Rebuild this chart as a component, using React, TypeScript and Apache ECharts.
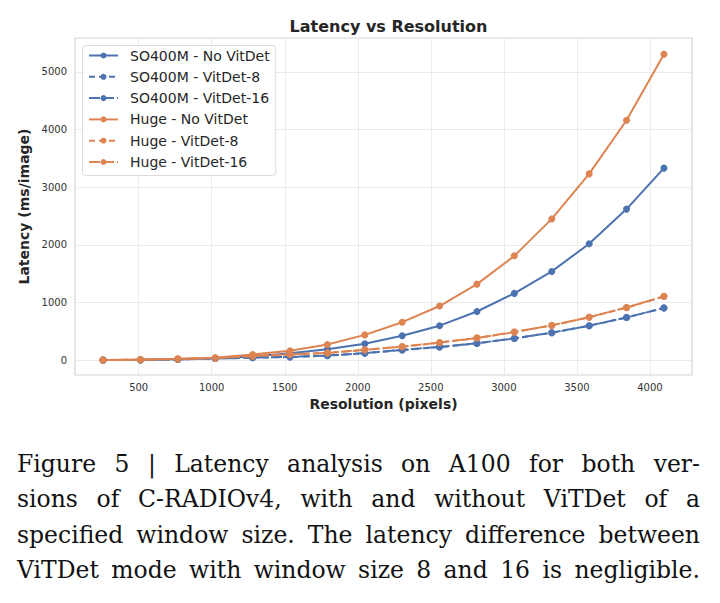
import React, { useEffect, useRef } from "react";
import * as echarts from "echarts";

// Input resolutions (pixels)
const resolutions = [256, 512, 768, 1024, 1280, 1536, 1792, 2048, 2304, 2560, 2816, 3072, 3328, 3584, 3840, 4096];

// Latency per image (ms)
const so400mNoVitDet = [3, 8, 18, 35, 65, 120, 192, 285, 425, 600, 845, 1160, 1540, 2020, 2620, 3330];
const so400mVitDet8 = [3, 7, 15, 30, 45, 57, 80, 122, 178, 230, 293, 379, 477, 598, 741, 908];
const so400mVitDet16 = [3, 7, 15, 31, 47, 59, 82, 125, 180, 232, 295, 380, 478, 600, 743, 905];
const hugeNoVitDet = [5, 12, 25, 42, 100, 165, 275, 440, 660, 940, 1320, 1810, 2450, 3230, 4160, 5305];
const hugeVitDet8 = [4, 10, 22, 38, 72, 102, 125, 180, 235, 305, 385, 488, 603, 745, 912, 1108];
const hugeVitDet16 = [4, 10, 22, 40, 74, 104, 128, 183, 238, 308, 388, 490, 605, 748, 915, 1105];

const xTicks = [500, 1000, 1500, 2000, 2500, 3000, 3500, 4000];
const yTicks = [0, 1000, 2000, 3000, 4000, 5000];

const captionLines = [
  "Figure 5 | Latency analysis on A100 for both ver-",
  "sions of C-RADIOv4, with and without ViTDet of a",
  "specified window size. The latency difference between",
  "ViTDet mode with window size 8 and 16 is negligible.",
];

const BLUE = "#4C72B0";
const ORANGE = "#DD8452";
const FONT = "DejaVu Sans";

const seriesDefs = [
  { name: "SO400M - No VitDet", data: so400mNoVitDet, color: BLUE, dash: "solid" as any },
  { name: "SO400M - VitDet-8", data: so400mVitDet8, color: BLUE, dash: [6, 4] },
  { name: "SO400M - VitDet-16", data: so400mVitDet16, color: BLUE, dash: [11, 3] },
  { name: "Huge - No VitDet", data: hugeNoVitDet, color: ORANGE, dash: "solid" as any },
  { name: "Huge - VitDet-8", data: hugeVitDet8, color: ORANGE, dash: [6, 4] },
  { name: "Huge - VitDet-16", data: hugeVitDet16, color: ORANGE, dash: [11, 3] },
];

const plain = (v: number) => String(v);

export default function App() {
  const ref = useRef<HTMLDivElement>(null);

  useEffect(() => {
    document.body.style.margin = "0";
    if (!ref.current) return;
    const chart = echarts.init(ref.current, undefined, { renderer: "svg" });
    chart.setOption({
      animation: false,
      backgroundColor: "#ffffff",
      title: {
        text: "Latency vs Resolution",
        left: 383.5,
        top: 13,
        textAlign: "center",
        textStyle: { fontFamily: FONT, fontSize: 16, fontWeight: "bold", color: "#262626" },
      },
      grid: {
        left: 75,
        right: 28,
        top: 38,
        bottom: 228,
        show: true,
        borderColor: "#d4d4d4",
        borderWidth: 1.2,
      },
      legend: {
        left: 82.5,
        top: 45.5,
        orient: "vertical",
        itemWidth: 29,
        itemHeight: 7.5,
        itemGap: 7.3,
        padding: [3, 6, 6.5, 5.5],
        backgroundColor: "rgba(255,255,255,0.85)",
        borderColor: "#dcdcdc",
        borderWidth: 1,
        borderRadius: 3,
        selectedMode: false,
        textStyle: { fontFamily: FONT, fontSize: 14, color: "#262626", padding: [0, 0, 0, 7] },
        data: seriesDefs.map((s) => s.name),
      },
      xAxis: {
        type: "value",
        min: 64,
        max: 4288,
        name: "Resolution (pixels)",
        nameLocation: "middle",
        nameGap: 20,
        nameTextStyle: { fontFamily: FONT, fontSize: 14, fontWeight: "bold", color: "#262626" },
        axisLine: { show: false },
        axisTick: { show: false, customValues: xTicks },
        axisLabel: {
          customValues: xTicks,
          formatter: plain,
          fontFamily: FONT,
          fontSize: 10,
          color: "#333333",
          margin: 7,
        },
        splitLine: { show: true, lineStyle: { color: "#ebebeb", width: 1 } },
      },
      yAxis: {
        type: "value",
        min: -255,
        max: 5585,
        name: "Latency (ms/image)",
        nameLocation: "middle",
        nameGap: 21,
        nameTextStyle: { fontFamily: FONT, fontSize: 14, fontWeight: "bold", color: "#262626" },
        axisLine: { show: false },
        axisTick: { show: false, customValues: yTicks },
        axisLabel: {
          customValues: yTicks,
          formatter: plain,
          fontFamily: FONT,
          fontSize: 10,
          color: "#333333",
          margin: 8,
        },
        splitLine: { show: true, lineStyle: { color: "#ebebeb", width: 1 } },
      },
      series: seriesDefs.map((s) => ({
        name: s.name,
        type: "line",
        data: resolutions.map((r, i) => [r, s.data[i]]),
        symbol: "circle",
        symbolSize: 7,
        color: s.color,
        itemStyle: { color: s.color },
        lineStyle: { color: s.color, width: 2, type: s.dash },
        emphasis: { disabled: true },
      })),
    });
    return () => chart.dispose();
  }, []);

  return (
    <div style={{ position: "relative", width: 720, height: 603, background: "#fff", overflow: "hidden" }}>
      <div ref={ref} style={{ position: "absolute", left: 0, top: 0, width: 720, height: 603 }} />
      <div
        style={{
          position: "absolute",
          left: 17,
          top: 447,
          width: 683,
          fontFamily: "'DejaVu Serif', serif",
          fontSize: 23.5,
          lineHeight: "35.4px",
          color: "#111",
        }}
      >
        {captionLines.map((line, i) => (
          <div key={i} style={{ textAlign: "justify", textAlignLast: "justify", whiteSpace: "nowrap" }}>
            {line}
          </div>
        ))}
      </div>
    </div>
  );
}
